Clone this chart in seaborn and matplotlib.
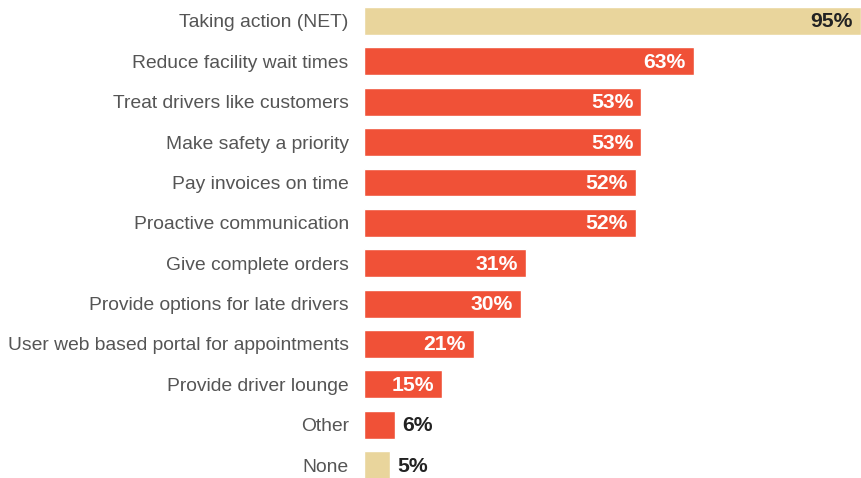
import matplotlib
matplotlib.use("Agg")
import matplotlib.pyplot as plt
import seaborn as sns
import pandas as pd

categories = [
    "Taking action (NET)",
    "Reduce facility wait times",
    "Treat drivers like customers",
    "Make safety a priority",
    "Pay invoices on time",
    "Proactive communication",
    "Give complete orders",
    "Provide options for late drivers",
    "User web based portal for appointments",
    "Provide driver lounge",
    "Other",
    "None",
]
values = [95, 63, 53, 53, 52, 52, 31, 30, 21, 15, 6, 5]
groups = ["net", "item", "item", "item", "item", "item", "item", "item", "item", "item", "item", "net"]

TAN = "#E9D59C"
RED = "#F05137"

df = pd.DataFrame({"category": categories, "value": values, "group": groups})

sns.set_theme(style="white")
plt.rcParams["font.family"] = ["Liberation Sans", "DejaVu Sans"]

fig = plt.figure(figsize=(8.61, 4.78), dpi=100)
ax = fig.add_axes([364 / 861, 0, 1 - 364 / 861, 1])

sns.barplot(data=df, x="value", y="category", hue="group",
            palette={"net": TAN, "item": RED}, dodge=False, legend=False,
            width=0.69, ax=ax, saturation=1)

ax.set_xlim(0, 95)
ax.set_ylim(11.32, -0.52)
for s in ax.spines.values():
    s.set_visible(False)
ax.set_xlabel("")
ax.set_ylabel("")
ax.set_xticks([])
ax.tick_params(axis="y", length=0, pad=11, labelsize=13.85, labelcolor="#555555")

for i, v in enumerate(values):
    if v >= 10:
        color = "#222222" if groups[i] == "net" else "white"
        ax.annotate(f"{v}%", xy=(v, i), xytext=(-8, -1), textcoords="offset pixels",
                    ha="right", va="center", fontsize=15.2, fontweight="bold", color=color)
    else:
        ax.annotate(f"{v}%", xy=(v, i), xytext=(7, -1), textcoords="offset pixels",
                    ha="left", va="center", fontsize=15.2, fontweight="bold", color="#222222")

fig.savefig("out.png", dpi=100)
